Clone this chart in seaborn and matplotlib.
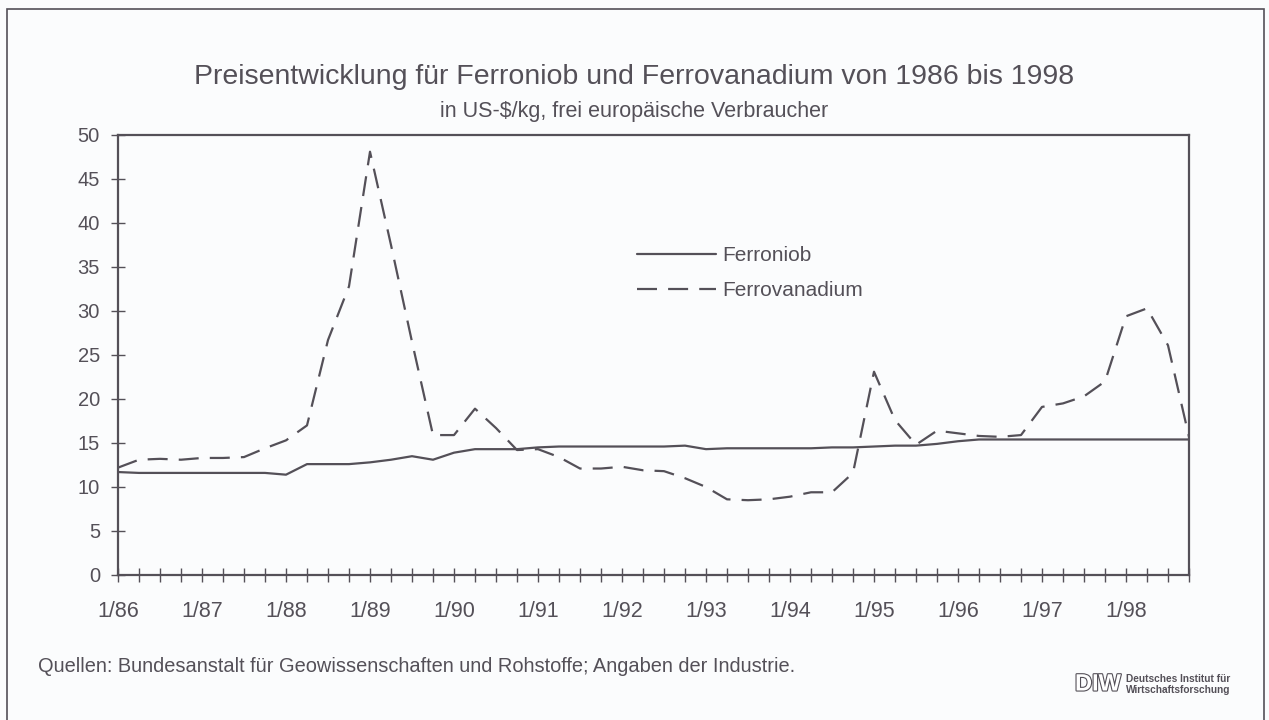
import matplotlib
matplotlib.use("Agg")
import matplotlib.pyplot as plt
import matplotlib.patheffects as pe
from matplotlib.patches import Rectangle
import numpy as np
import pandas as pd
import seaborn as sns

# ---- data (quarterly, 1/86 .. 10/98) ----
quarters = np.arange(1986.0, 1998.76, 0.25)
ferroniob = [11.7, 11.6, 11.6, 11.6, 11.6, 11.6, 11.6, 11.6, 11.4, 12.6,
             12.6, 12.6, 12.8, 13.1, 13.5, 13.1, 13.9, 14.3, 14.3, 14.3,
             14.5, 14.6, 14.6, 14.6, 14.6, 14.6, 14.6, 14.7, 14.3, 14.4,
             14.4, 14.4, 14.4, 14.4, 14.5, 14.5, 14.6, 14.7, 14.7, 14.9,
             15.2, 15.4, 15.4, 15.4, 15.4, 15.4, 15.4, 15.4, 15.4, 15.4,
             15.4, 15.4]
ferrovanadium = [12.2, 13.1, 13.2, 13.1, 13.3, 13.3, 13.4, 14.4, 15.3, 17.0,
                 26.7, 32.8, 48.1, 37.5, 26.5, 15.9, 15.9, 18.9, 16.7, 14.2,
                 14.3, 13.4, 12.1, 12.1, 12.3, 11.9, 11.8, 11.0, 10.0, 8.6,
                 8.5, 8.6, 8.9, 9.4, 9.4, 11.6, 23.1, 17.6, 14.8, 16.4,
                 16.1, 15.8, 15.7, 15.9, 19.1, 19.5, 20.3, 22.0, 29.4, 30.3,
                 26.1, 15.7]
series_names = ["Ferroniob", "Ferrovanadium"]
year_labels = ["1/86", "1/87", "1/88", "1/89", "1/90", "1/91", "1/92",
               "1/93", "1/94", "1/95", "1/96", "1/97", "1/98"]
y_ticks = [0, 5, 10, 15, 20, 25, 30, 35, 40, 45, 50]

df = pd.DataFrame({
    "t": np.concatenate([quarters, quarters]),
    "v": ferroniob + ferrovanadium,
    "s": [series_names[0]] * len(quarters) + [series_names[1]] * len(quarters),
})

sns.set_theme(style="white")
plt.rcParams["font.family"] = ["Liberation Sans", "DejaVu Sans"]

ink = "#545058"
bg = "#fbfcfd"

fig = plt.figure(figsize=(12.69, 7.2), dpi=100, facecolor=bg)
ax = fig.add_axes([118 / 1269, 1 - 575 / 720, (1189 - 118) / 1269, 440 / 720])
ax.set_facecolor(bg)

sns.lineplot(data=df, x="t", y="v", hue="s", style="s",
             palette={series_names[0]: ink, series_names[1]: ink},
             dashes={series_names[0]: "", series_names[1]: (9, 5)},
             linewidth=1.6, ax=ax)

ax.set_xlim(1986.0, 1998.75)
ax.set_ylim(0, 50)
ax.set_xlabel("")
ax.set_ylabel("")

xt = list(quarters)
xl = []
yi = 0
for q in quarters:
    if abs(q - round(q)) < 1e-6:
        xl.append(year_labels[yi]); yi += 1
    else:
        xl.append("")
ax.set_xticks(xt)
ax.set_xticklabels(xl)
ax.set_yticks(y_ticks)
ax.set_yticklabels([str(v) for v in y_ticks])
ax.tick_params(axis="x", direction="inout", length=10, width=1, color=ink,
               labelsize=15.5, labelcolor=ink, pad=14, bottom=True)
ax.tick_params(axis="y", direction="inout", length=10, width=1, color=ink,
               labelsize=14.5, labelcolor=ink, pad=8, left=True)
for sp in ax.spines.values():
    sp.set_color(ink)
    sp.set_linewidth(1.6)

leg = ax.legend(loc="center left", bbox_to_anchor=(0.467, 0.686),
                frameon=False, fontsize=15, handlelength=3.8,
                handletextpad=0.3, labelspacing=0.78)
for txt in leg.get_texts():
    txt.set_color(ink)

# titles
fig.text(634 / 1269, 1 - 77 / 720, "Preisentwicklung für Ferroniob und Ferrovanadium von 1986 bis 1998",
         ha="center", va="center", fontsize=20.5, color=ink)
fig.text(634 / 1269, 1 - 111 / 720, "in US-$/kg, frei europäische Verbraucher",
         ha="center", va="center", fontsize=15.5, color=ink)

# source
fig.text(38 / 1269, 1 - 667 / 720,
         "Quellen: Bundesanstalt für Geowissenschaften und Rohstoffe; Angaben der Industrie.",
         ha="left", va="center", fontsize=14.4, color=ink)

# DIW logo
fig.text(1098 / 1269, 1 - 684 / 720, "DIW", ha="center", va="center", fontsize=17,
         fontweight="bold", color="white",
         path_effects=[pe.withStroke(linewidth=1.6, foreground=ink)])
fig.text(1126 / 1269, 1 - 679 / 720, "Deutsches Institut für", ha="left", va="center",
         fontsize=7.3, color=ink, fontweight="bold")
fig.text(1126 / 1269, 1 - 690 / 720, "Wirtschaftsforschung", ha="left", va="center",
         fontsize=7.3, color=ink, fontweight="bold")

# outer frame
fig.patches.append(Rectangle((7 / 1269, -0.05), (1264 - 7) / 1269, 1.05 - 9 / 720,
                             transform=fig.transFigure, fill=False,
                             edgecolor=ink, linewidth=1.2))

fig.savefig("out.png", dpi=100, facecolor=bg)
